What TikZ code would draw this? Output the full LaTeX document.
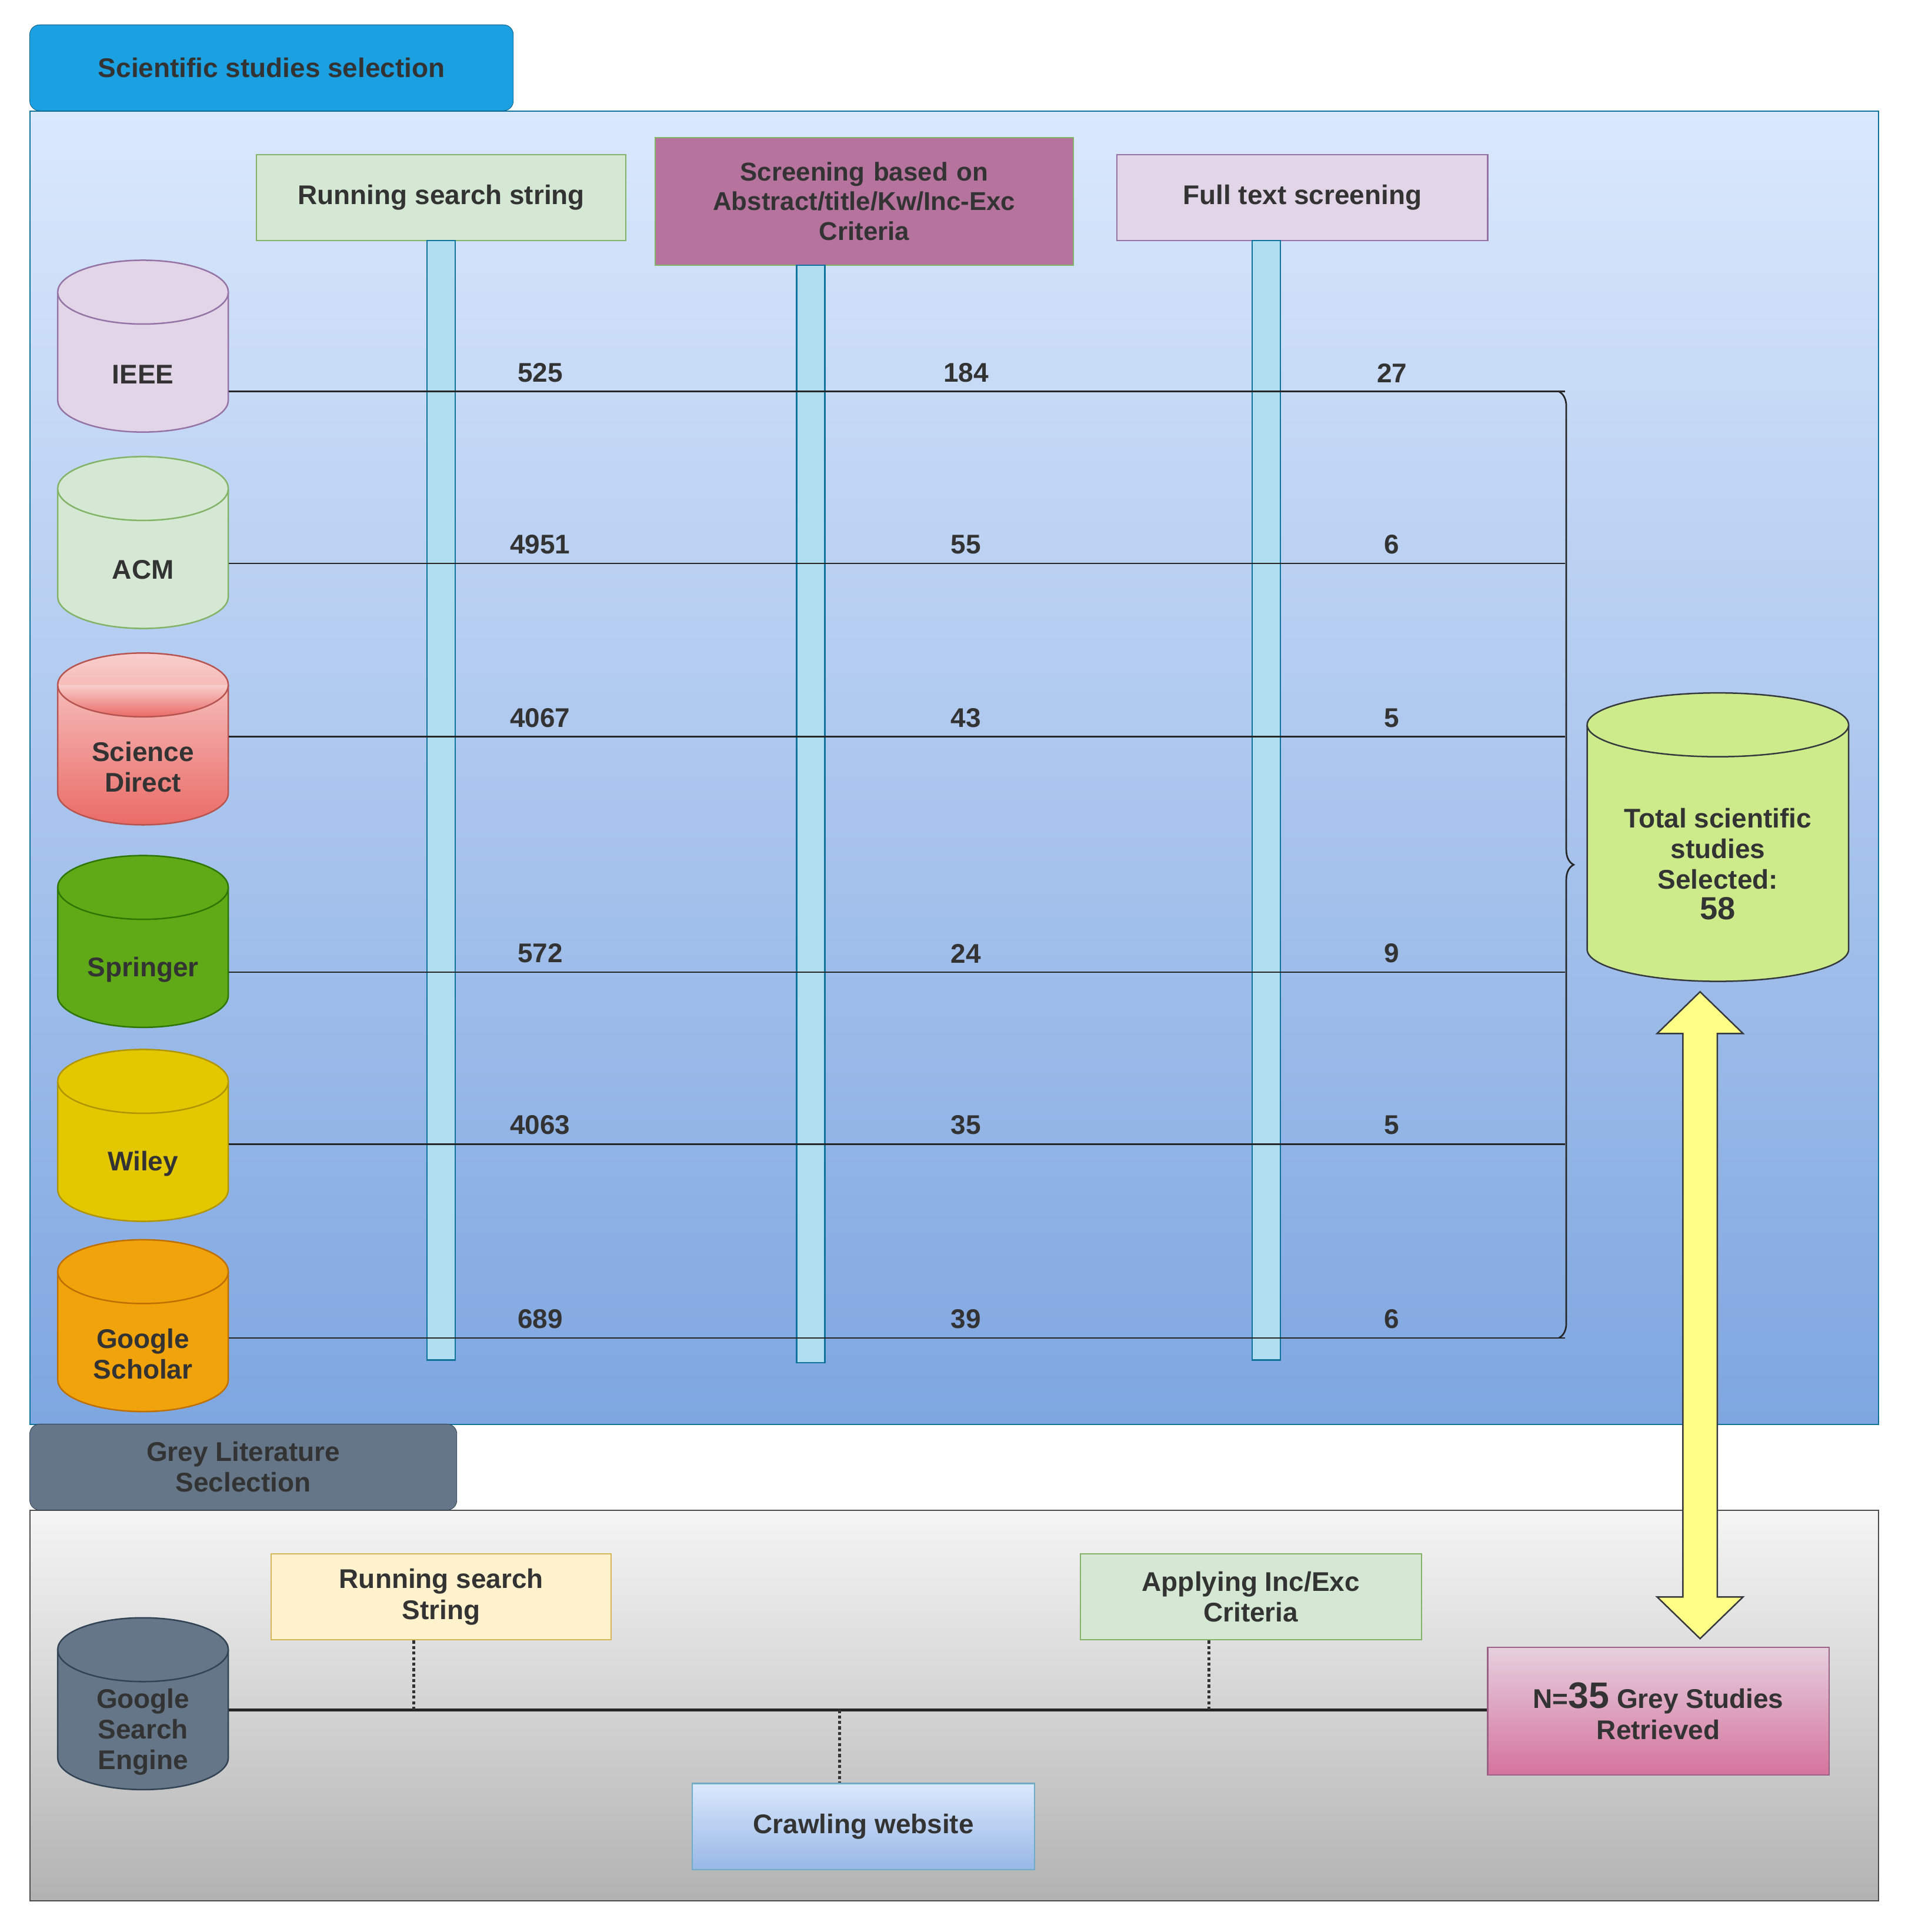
\documentclass[tikz,border=0pt]{standalone}
\usepackage{fontspec}
\setmainfont{Liberation Sans}
\usetikzlibrary{shapes.geometric,decorations.pathreplacing,calc}
\definecolor{tabblue}{HTML}{1BA1E2}
\definecolor{panT}{HTML}{DAE8FC}
\definecolor{panB}{HTML}{7EA6E0}
\definecolor{barf}{HTML}{B1DDF0}
\definecolor{bars}{HTML}{10739E}
\definecolor{gfill}{HTML}{D5E8D4}
\definecolor{gline}{HTML}{82B366}
\definecolor{pfill}{HTML}{E1D5E7}
\definecolor{pline}{HTML}{9673A6}
\definecolor{mag}{HTML}{B5739D}
\definecolor{rT}{HTML}{F8CECC}
\definecolor{rB}{HTML}{EA6B66}
\definecolor{rline}{HTML}{B85450}
\definecolor{spr}{HTML}{60A917}
\definecolor{sprl}{HTML}{2D7600}
\definecolor{wil}{HTML}{E3C800}
\definecolor{will}{HTML}{B09500}
\definecolor{gsc}{HTML}{F0A30A}
\definecolor{gscl}{HTML}{BD7000}
\definecolor{lime}{HTML}{CDEB8B}
\definecolor{limel}{HTML}{36393D}
\definecolor{slate}{HTML}{647687}
\definecolor{slatel}{HTML}{314354}
\definecolor{yel}{HTML}{FFF2CC}
\definecolor{yell}{HTML}{D6B656}
\definecolor{ptT}{HTML}{E6D0DE}
\definecolor{ptB}{HTML}{D5739D}
\definecolor{ptl}{HTML}{996185}
\definecolor{arrowy}{HTML}{FFFF88}
\tikzset{
  x=1pt,y=-1pt,
  txt/.style={font=\fontsize{22}{25}\selectfont\bfseries\color{black!80}, align=center},
  box/.style={draw, line width=1pt, txt},
  bar/.style={draw=bars, fill=barf, line width=1pt},
  link/.style={line width=1.3pt, black!85},
  num/.style={txt, anchor=south},
  dotl/.style={line width=2.5pt, dotted, black!80}
}
% \dbcyl{name}{cx}{cy}{w}{h}{ry}{style}{text}{text y}
\newcommand\dbcyl[9]{%
  \path[line width=1.2pt,#7] ({#2-#4/2},{#3-#5/2+#6}) -- ({#2-#4/2},{#3+#5/2-#6})
     arc[start angle=180,end angle=0,x radius=#4/2,y radius=#6]
     -- ({#2+#4/2},{#3-#5/2+#6})
     arc[start angle=0,end angle=-180,x radius=#4/2,y radius=#6] -- cycle;
  \draw[line width=1.2pt,#7] ({#2-#4/2},{#3-#5/2+#6})
     arc[start angle=180,end angle=0,x radius=#4/2,y radius=#6];
  \node[minimum width=#4 pt, minimum height=#5 pt, inner sep=0] (#1) at (#2,#3) {};
  \node[txt, inner sep=0] (#1t) at (#2,#9) {#8};
}
\begin{document}
\begin{tikzpicture}
\useasboundingbox (0,0) rectangle (1560,1574);
% panels
\node[draw=bars, line width=1pt, top color=panT, bottom color=panB, minimum width=1506pt, minimum height=1070pt, anchor=north west, inner sep=0] (panel) at (24,90) {};
\node[draw=bars!80!black, fill=tabblue, rounded corners=8pt, minimum width=394pt, minimum height=70pt, anchor=north west, txt] (tab) at (24,20) {Scientific studies selection};
\node[draw=black!70, line width=1pt, top color=black!4, bottom color=black!30, minimum width=1506pt, minimum height=318pt, anchor=north west, inner sep=0] (gpanel) at (24,1230) {};
\node[draw=slatel, fill=slate, rounded corners=8pt, minimum width=348pt, minimum height=70pt, anchor=north west, txt] (gtab) at (24,1160) {Grey Literature\\Seclection};
% headers
\node[box, draw=gline, fill=gfill, minimum width=301pt, minimum height=70pt] (h1) at (359.5,161) {Running search string};
\node[box, draw=gline, fill=mag, minimum width=336pt, minimum height=104pt, text width=334pt, font=\fontsize{21}{24}\selectfont\bfseries\color{black!80}] (h2) at (704,164) {Screening based on\\Abstract/title/Kw/Inc-Exc\\Criteria};
\node[box, draw=pline, fill=pfill, minimum width=302pt, minimum height=70pt] (h3) at (1061,161) {Full text screening};
% bars
\draw[bar] (348,196) rectangle (371,1108);
\draw[bar] (649,216) rectangle (672,1110);
\draw[bar] (1020,196) rectangle (1043,1108);
% cylinders
\dbcyl{ieee}{116.5}{282}{139}{140}{26}{draw=pline, fill=pfill}{IEEE}{305}
\dbcyl{acm}{116.5}{442}{139}{140}{26}{draw=gline, fill=gfill}{ACM}{464}
\dbcyl{sd}{116.5}{602}{139}{140}{26}{draw=rline, top color=rT, bottom color=rB}{Science\\Direct}{625}
\dbcyl{spr}{116.5}{767}{139}{140}{26}{draw=sprl, fill=spr}{Springer}{790}
\dbcyl{wil}{116.5}{925}{139}{140}{26}{draw=will, fill=wil}{Wiley}{948}
\dbcyl{gs}{116.5}{1080}{139}{140}{26}{draw=gscl, fill=gsc}{Google\\Scholar}{1103}
% lines
\foreach \n/\y/\a/\b/\c in {ieee/319/525/184/27, acm/459/4951/55/6, sd/600/4067/43/5, spr/792/572/24/9, wil/932/4063/35/5, gs/1090/689/39/6}{
  \coordinate (e\n) at (1270,\y);
  \coordinate (f\n) at (1275,\y);
  \draw[link] (\n.east |- e\n) -- (f\n);
  \node[num] (a\n) at (440,\y-4) {\a};
  \node[num] (b\n) at (787,\y-4) {\b};
  \node[num] (c\n) at (1134,\y-4) {\c};
}
\draw[link, decorate, decoration={brace, amplitude=12pt}] (eieee) -- (egs);
% total
\dbcyl{tot}{1399.5}{682}{213}{235}{26}{draw=limel, fill=lime}{Total scientific\\studies\\Selected:\\{\fontsize{26}{30}\selectfont 58}}{704}
% yellow arrow
\coordinate (ya) at (1385,808);
\coordinate (yb) at (1385,1335);
\draw[draw=limel, fill=arrowy, line width=1.2pt] (ya) -- ++(35,34) -- ++(-21,0) -- ($(yb)+(14,-34)$) -- ++(21,0) -- (yb) -- ++(-35,-34) -- ++(21,0) -- ($(ya)+(-14,34)$) -- ++(-21,0) -- cycle;
% grey part
\dbcyl{gse}{116.5}{1388}{139}{140}{26}{draw=slatel, fill=slate}{Google\\Search\\Engine}{1411}
\node[box, draw=yell, fill=yel, minimum width=277pt, minimum height=70pt] (g1) at (359.5,1301) {Running search\\String};
\node[box, draw=gline, fill=gfill, minimum width=278pt, minimum height=70pt] (g2) at (1019,1301) {Applying Inc/Exc\\Criteria};
\node[box, draw=bars!60, top color=panT, bottom color=panB!80, minimum width=279pt, minimum height=70pt] (g3) at (703.5,1488) {Crawling website};
\node[box, draw=ptl, top color=ptT, bottom color=ptB, minimum width=278pt, minimum height=104pt] (g4) at (1351,1394) {N={\fontsize{30}{30}\selectfont 35} Grey Studies\\Retrieved};
\draw[line width=2.5pt, black!85] (gse.east |- 0,1393) coordinate (gl) -- (g4.west |- 0,1393) coordinate (gr);
\coordinate (d1) at (337,1393);
\coordinate (d2) at (985,1393);
\coordinate (d3) at (684,1393);
\draw[dotl] (g1.south -| d1) -- (d1);
\draw[dotl] (g2.south -| d2) -- (d2);
\draw[dotl] (d3) -- (g3.north -| d3);
\end{tikzpicture}
\end{document}
